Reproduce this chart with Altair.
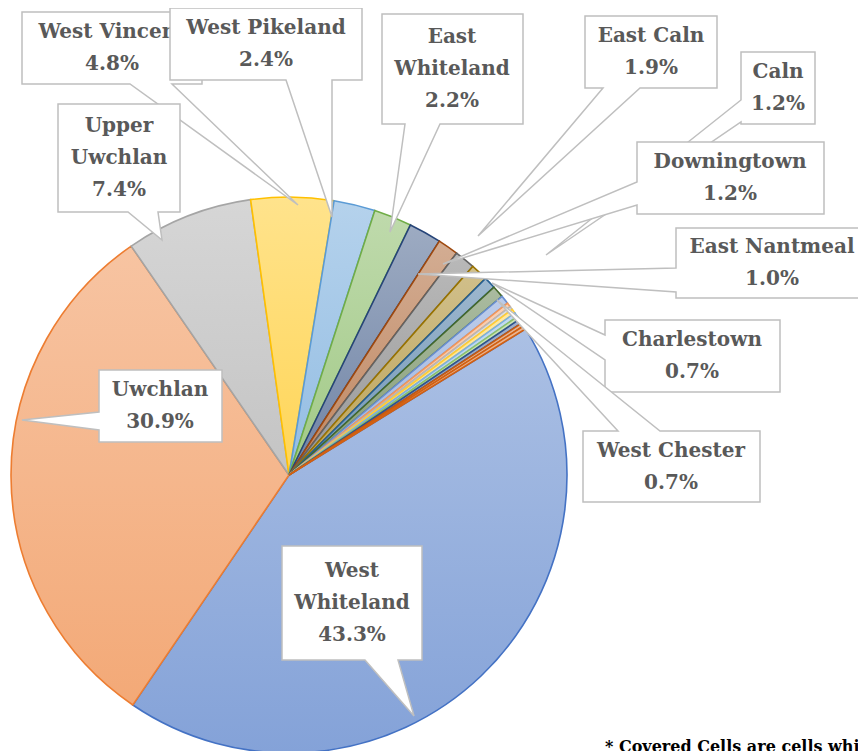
import math
import altair as alt
import pandas as pd

# ---------------- data ----------------
names = ["West Whiteland", "Uwchlan", "Upper Uwchlan", "West Vincent", "West Pikeland",
         "East Whiteland", "East Caln", "Caln", "Downingtown", "East Nantmeal",
         "Charlestown", "West Chester",
         "Other 1", "Other 2", "Other 3", "Other 4", "Other 5", "Other 6",
         "Other 7", "Other 8", "Other 9"]
values = [43.3, 30.9, 7.4, 4.8, 2.4, 2.2, 1.9, 1.2, 1.2, 1.0, 0.7, 0.7,
          0.5, 0.25, 0.2, 0.25, 0.25, 0.2, 0.25, 0.2, 0.2]
colors = ["#4472C4", "#ED7D31", "#A5A5A5", "#FFC000", "#5B9BD5", "#70AD47",
          "#264478", "#9E480E", "#636363", "#997300", "#255E91", "#43682B",
          "#698ED0", "#F1975A", "#B7B7B7", "#FFCD33", "#7CAFDD", "#8CC168",
          "#2F528F", "#C55A11", "#D26012"]
label_names = ["West Vincent", "Upper Uwchlan", "Uwchlan", "West Whiteland", "East Whiteland",
               "East Caln", "Caln", "Downingtown", "East Nantmeal", "Charlestown",
               "West Chester", "West Pikeland"]
label_lines = [["West Vincent", "4.8%"], ["Upper", "Uwchlan", "7.4%"], ["Uwchlan", "30.9%"],
               ["West", "Whiteland", "43.3%"], ["East", "Whiteland", "2.2%"],
               ["East Caln", "1.9%"], ["Caln", "1.2%"], ["Downingtown", "1.2%"],
               ["East Nantmeal", "1.0%"], ["Charlestown", "0.7%"], ["West Chester", "0.7%"],
               ["West Pikeland", "2.4%"]]
footnote = "* Covered Cells are cells which"

# ---------------- layout (page pixel coordinates) ----------------
OFF = 8
boxes = [(22, 12, 202, 84), (58, 104, 180, 212), (99, 370, 222, 442), (282, 546, 422, 660),
         (382, 14, 523, 124), (585, 16, 717, 88), (741, 52, 815, 124), (637, 142, 824, 214),
         (676, 228, 880, 298), (605, 320, 780, 392), (583, 431, 760, 502), (170, 8, 362, 80)]
sides = ["bottom", "bottom", "left", "bottom", "bottom", "bottom", "left", "left",
         "left", "left", "top", "bottom"]
bases = [(130, 172), (128, 158), (412, 430), (365, 398), (405, 440), (603, 640),
         (100, 122), (182, 205), (268, 292), (335, 360), (618, 660), (286, 332)]
tips = [(298, 205), (162, 240), (22, 420), (414, 716), (390, 232), (478, 236),
        (546, 255), (443, 264), (418, 274), (492, 283), (497, 300), (332, 217)]
text_cx = [112, 119, 160, 352, 452, 651, 778, 730, 772, 692, 671, 266]
zorder = [0] * 11 + [1]

CX, CY, R = 289 - OFF, 475 - OFF, 278
START = math.radians(58.3)
W, H = 850, 743


def tint(hexc, t):
    r, g, b = int(hexc[1:3], 16), int(hexc[3:5], 16), int(hexc[5:7], 16)
    r, g, b = [round(c + (255 - c) * t) for c in (r, g, b)]
    return "#%02x%02x%02x" % (r, g, b)


total = sum(values)
df = pd.DataFrame({"name": names, "value": values, "idx": list(range(len(names)))})
theta_scale = alt.Scale(domain=[0, total], range=[START, START + 2 * math.pi])

base = (alt.Chart(df)
        .transform_window(cum="sum(value)", sort=[alt.SortField("idx")], frame=[None, 0])
        .transform_calculate(start="datum.cum - datum.value"))

layers = []
for i, c in enumerate(colors):
    grad = alt.Gradient(gradient="linear", x1=0, y1=0, x2=0, y2=1,
                        stops=[alt.GradientStop(color=tint(c, 0.55), offset=0),
                               alt.GradientStop(color=tint(c, 0.34), offset=1)])
    layers.append(
        base.transform_filter(alt.datum.idx == i)
        .mark_arc(radius=R, fill=grad, stroke=c, strokeWidth=1.6)
        .encode(theta=alt.Theta("start:Q", scale=theta_scale),
                theta2="cum:Q",
                x=alt.value(CX), y=alt.value(CY))
    )


def ring(box, side, bs, tip):
    x0, y0, x1, y1 = box
    a, b = bs
    tx, ty = tip
    pts = [(x0, y0)]
    if side == "top":
        pts += [(a, y0), (tx, ty), (b, y0)]
    pts += [(x1, y0), (x1, y1)]
    if side == "bottom":
        pts += [(b, y1), (tx, ty), (a, y1)]
    pts += [(x0, y1)]
    if side == "left":
        pts += [(x0, b), (tx, ty), (x0, a)]
    pts += [(x0, y0)]
    return [[px - OFF, py - OFF] for px, py in pts]


features = []
text_rows = []
for k, nm in enumerate(label_names):
    features.append({"type": "Feature",
                     "geometry": {"type": "Polygon",
                                  "coordinates": [ring(boxes[k], sides[k], bases[k], tips[k])]},
                     "properties": {"name": nm, "z": zorder[k]}})
    x0, y0, x1, y1 = boxes[k]
    cy = (y0 + y1) / 2
    n = len(label_lines[k])
    for j, t in enumerate(label_lines[k]):
        text_rows.append({"x": text_cx[k] - OFF, "y": cy + (j - (n - 1) / 2) * 32 - OFF,
                          "t": t, "z": zorder[k]})

tdf = pd.DataFrame(text_rows)
proj = dict(type="identity", scale=1, translate=[0, 0])

for z in (0, 1):
    feats = [f for f in features if f["properties"]["z"] == z]
    layers.append(
        alt.Chart(alt.InlineData(values=feats))
        .mark_geoshape(fill="white", stroke="#bfbfbf", strokeWidth=1.5)
        .project(**proj)
    )
    layers.append(
        alt.Chart(tdf[tdf["z"] == z])
        .mark_text(font="DejaVu Serif", fontSize=20, fontWeight="bold", color="#595959")
        .encode(x=alt.X("x:Q", scale=None, axis=None),
                y=alt.Y("y:Q", scale=None, axis=None),
                text="t:N")
    )

fdf = pd.DataFrame({"t": [footnote], "x": [605 - OFF], "y": [747 - OFF]})
layers.append(
    alt.Chart(fdf)
    .mark_text(font="DejaVu Serif", fontSize=16, fontWeight="bold", color="#000000",
               align="left", baseline="middle")
    .encode(x=alt.X("x:Q", scale=None, axis=None),
            y=alt.Y("y:Q", scale=None, axis=None),
            text="t:N")
)

chart = (alt.layer(*layers)
         .properties(width=W, height=H, padding=0, autosize="none")
         .configure_view(stroke=None))

chart.save("out.html", embed_options={"renderer": "svg", "actions": False})
